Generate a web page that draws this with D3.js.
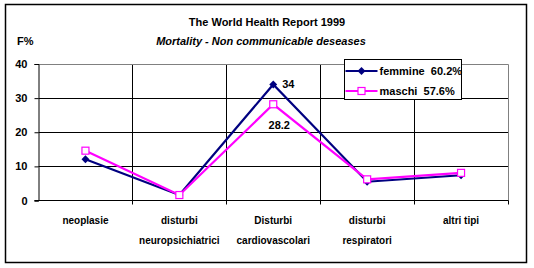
<!DOCTYPE html>
<html>
<head>
<meta charset="utf-8">
<script src="https://cdn.jsdelivr.net/npm/d3@7"></script>
<style>
  body { margin: 0; background: #fff; }
  text { font-family: "Liberation Sans", Arial, sans-serif; font-weight: bold; fill: #000; }
</style>
</head>
<body>
<svg id="chart" width="534" height="268"></svg>
<script>
const categories = [
  ['neoplasie'],
  ['disturbi', 'neuropsichiatrici'],
  ['Disturbi', 'cardiovascolari'],
  ['disturbi', 'respiratori'],
  ['altri tipi']
];
const femmine = [12.1, 1.6, 34, 5.5, 7.4];
const maschi = [14.6, 1.6, 28.2, 6.2, 8.1];
const yTicks = [0, 10, 20, 30, 40];

const svg = d3.select('#chart');
const plotL = 38.5, plotR = 508, plotT = 64, plotB = 200.5;

// outer frame
svg.append('rect')
  .attr('x', 5.5).attr('y', 4.5).attr('width', 521).attr('height', 258)
  .attr('fill', '#fff').attr('stroke', '#000').attr('stroke-width', 1.5);

svg.append('text').attr('x', 267).attr('y', 26).attr('text-anchor', 'middle')
  .style('font-size', '11px').text('The World Health Report 1999');
svg.append('text').attr('x', 261).attr('y', 45).attr('text-anchor', 'middle')
  .style('font-size', '11px').style('font-style', 'italic')
  .text('Mortality - Non communicable deseases');
svg.append('text').attr('x', 17).attr('y', 45)
  .style('font-size', '11px').text('F%');

const x = d3.scaleBand().domain(d3.range(categories.length)).range([plotL, plotR]);
const y = d3.scaleLinear().domain([0, 40]).range([plotB, plotT]);
const cx = i => x(i) + x.bandwidth() / 2;

// grid
const g = svg.append('g');
g.selectAll('.hgrid').data(yTicks.slice(1, -1)).enter().append('line')
  .attr('x1', plotL).attr('x2', plotR)
  .attr('y1', d => Math.round(y(d)) + 0.5).attr('y2', d => Math.round(y(d)) + 0.5)
  .attr('stroke', '#000');
g.selectAll('.vgrid').data(d3.range(1, categories.length)).enter().append('line')
  .attr('x1', d => Math.round(x(d)) + 0.5).attr('x2', d => Math.round(x(d)) + 0.5)
  .attr('y1', plotT).attr('y2', plotB + 4)
  .attr('stroke', '#000');
// grey plot border top/right
g.append('path')
  .attr('d', `M${plotL},${plotT + 0.5}H${plotR + 0.5}V${plotB}`)
  .attr('fill', 'none').attr('stroke', '#808080');

// axes
const yAxis = d3.axisLeft(y).tickValues(yTicks).tickSize(4).tickPadding(7);
svg.append('g').attr('transform', `translate(${plotL},0)`).call(yAxis)
  .call(a => a.selectAll('text').style('font-size', '11px'))
  .call(a => a.selectAll('line,path').attr('stroke', '#000'));
svg.append('line').attr('x1', plotL - 4).attr('x2', plotR + 0.5)
  .attr('y1', plotB).attr('y2', plotB).attr('stroke', '#000');
svg.append('line').attr('x1', plotR + 0.5).attr('x2', plotR + 0.5)
  .attr('y1', plotB).attr('y2', plotB + 4).attr('stroke', '#000');

// category labels
const cl = svg.append('g').selectAll('text').data(categories).enter().append('text')
  .attr('text-anchor', 'middle').style('font-size', '10px');
cl.selectAll('tspan').data((d, i) => d.map(t => ({ t, i }))).enter().append('tspan')
  .attr('x', d => cx(d.i)).attr('y', (d, j) => 224 + j * 20).text(d => d.t);

// lines
const line = d3.line().x((d, i) => cx(i)).y(d => y(d));
svg.append('path').datum(femmine).attr('d', line)
  .attr('fill', 'none').attr('stroke', '#000080').attr('stroke-width', 2.2);
svg.append('path').datum(maschi).attr('d', line)
  .attr('fill', 'none').attr('stroke', '#ff00ff').attr('stroke-width', 2.2);

const diamond = d3.symbol().type(d3.symbolDiamond2).size(40);
svg.append('g').selectAll('path').data(femmine).enter().append('path')
  .attr('d', diamond).attr('transform', (d, i) => `translate(${cx(i)},${y(d)})`)
  .attr('fill', '#000080');
svg.append('g').selectAll('rect').data(maschi).enter().append('rect')
  .attr('x', (d, i) => cx(i) - 3.5).attr('y', d => y(d) - 3.5)
  .attr('width', 7).attr('height', 7)
  .attr('fill', '#fff').attr('stroke', '#ff00ff').attr('stroke-width', 1.2);

// data labels
svg.append('text').attr('x', cx(2) + 9).attr('y', y(femmine[2]) + 4)
  .style('font-size', '11px').text(femmine[2]);
svg.append('text').attr('x', cx(2) + 6).attr('y', y(maschi[2]) + 25)
  .attr('text-anchor', 'middle').style('font-size', '11px').text(maschi[2]);

// legend
const lg = svg.append('g').attr('transform', 'translate(344.5,59.5)');
lg.append('rect').attr('width', 117).attr('height', 40)
  .attr('fill', '#fff').attr('stroke', '#000');
const items = [
  { name: 'femmine  60.2%', color: '#000080', sym: 'd' },
  { name: 'maschi  57.6%', color: '#ff00ff', sym: 's' }
];
items.forEach((it, i) => {
  const yy = 11.5 + i * 20;
  lg.append('line').attr('x1', 1).attr('x2', 33).attr('y1', yy).attr('y2', yy)
    .attr('stroke', it.color).attr('stroke-width', 2);
  if (it.sym === 'd') {
    lg.append('path').attr('d', diamond).attr('transform', `translate(17,${yy})`)
      .attr('fill', it.color);
  } else {
    lg.append('rect').attr('x', 13.5).attr('y', yy - 3.5).attr('width', 7).attr('height', 7)
      .attr('fill', '#fff').attr('stroke', it.color).attr('stroke-width', 1.2);
  }
  lg.append('text').attr('x', 35).attr('y', yy + 4).style('font-size', '11px')
    .attr('xml:space', 'preserve').style('white-space', 'pre').text(it.name);
});
</script>
</body>
</html>
